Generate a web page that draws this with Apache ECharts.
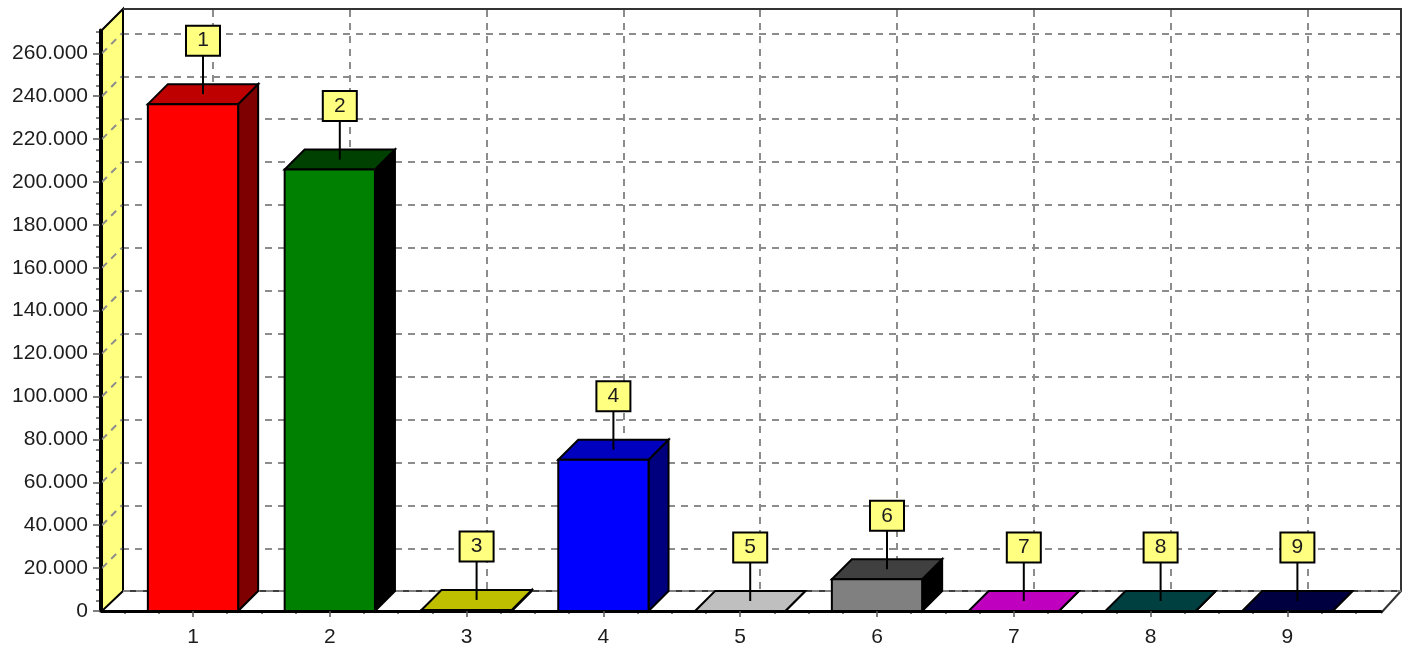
<!DOCTYPE html>
<html>
<head>
<meta charset="utf-8">
<style>html,body{margin:0;padding:0;background:#fff}#c{width:1408px;height:648px}</style>
<script src="https://cdn.jsdelivr.net/npm/echarts@6/dist/echarts.min.js"></script>
</head>
<body>
<div id="c"></div>
<script>
const categories = [1, 2, 3, 4, 5, 6, 7, 8, 9];
const values = [236300, 205800, 500, 70500, 0, 14800, 0, 0, 0];
const frontColors = ['#FF0000', '#008000', '#FFFF00', '#0000FF', '#FFFFFF', '#808080', '#FF00FF', '#008080', '#000080'];
const topColors = ['#BF0000', '#004000', '#BFBF00', '#0000BF', '#BFBFBF', '#404040', '#BF00BF', '#004040', '#000040'];
const sideColors = ['#7F0000', '#000000', '#7F7F00', '#00007F', '#7F7F7F', '#000000', '#7F007F', '#000000', '#000000'];
const yMajorTicks = [0, 20000, 40000, 60000, 80000, 100000, 120000, 140000, 160000, 180000, 200000, 220000, 240000, 260000];
const yMinorTicks = [];
for (let i = 0; i <= 54; i++) if (i % 4) yMinorTicks.push(i * 5000);
const xMinorTicks = [];
for (let i = 2; i <= 38; i++) if (i % 4) xMinorTicks.push(i * 0.25);

const X_MIN = 0.3348, X_MAX = 9.6842, Y_MAX = 270860;
const BAR_HALF = 0.33, DX = 20, DY = 20, BOX_W = 34, BOX_H = 30, BOX_ABOVE = 78.5;
const FONT = '"Liberation Sans", Arial, sans-serif';
const TEXT = '#1c1c1c';
const GRID_LINE = { show: true, lineStyle: { color: '#8c8c8c', width: 2, type: [7, 6] } };

const fmtY = v => v === 0 ? '0' : (v / 1000) + '.000';

function renderWall(params, api) {
  const a = api.coord([X_MIN, 0]), b = api.coord([X_MIN, Y_MAX]), r = api.coord([X_MAX, 0]);
  const topY = b[1] - DY - 1, backX = a[0] + DX + 1, backY = a[1] - DY;
  const kids = [
    { type: 'polygon', shape: { points: [a, b, [backX, topY], [backX, backY]] },
      style: { fill: '#FFFF80', stroke: '#000', lineWidth: 2 } },
    { type: 'polyline', shape: { points: [[backX, topY], [r[0] + DX, topY], [r[0] + DX, backY], [r[0], r[1] + 2]] },
      style: { stroke: '#333', lineWidth: 2, fill: null } },
    { type: 'line', shape: { x1: backX, y1: backY, x2: r[0] + DX, y2: backY }, style: { stroke: '#000', lineWidth: 1.5 } },
    { type: 'line', shape: { x1: backX, y1: backY, x2: r[0] + DX, y2: backY }, style: { stroke: '#999', lineWidth: 1.5, lineDash: [7, 6] } }
  ];
  yMajorTicks.slice(1).forEach(v => {
    const p = api.coord([X_MIN, v]);
    kids.push({ type: 'line', shape: { x1: p[0], y1: p[1], x2: p[0] + DX, y2: p[1] - DY },
      style: { stroke: '#8c8c8c', lineWidth: 2, lineDash: [7, 6] } });
  });
  return { type: 'group', children: kids };
}

function renderBar(params, api) {
  const i = params.dataIndex;
  const x = api.value(0), v = api.value(1);
  const tl = api.coord([x - BAR_HALF, v]), br = api.coord([x + BAR_HALF, 0]);
  const c = api.coord([x, v]);
  const s = col => ({ fill: col, stroke: '#000', lineWidth: 2, lineJoin: 'miter' });
  const sx = c[0] + DX / 2, boxTop = tl[1] - BOX_ABOVE;
  return { type: 'group', children: [
    { type: 'polygon', shape: { points: [[br[0], tl[1]], [br[0] + DX, tl[1] - DY], [br[0] + DX, br[1] - DY], [br[0], br[1]]] }, style: s(sideColors[i]) },
    { type: 'polygon', shape: { points: [[tl[0], tl[1]], [tl[0] + DX, tl[1] - DY], [br[0] + DX, tl[1] - DY], [br[0], tl[1]]] }, style: s(topColors[i]) },
    { type: 'rect', shape: { x: tl[0], y: tl[1], width: br[0] - tl[0], height: br[1] - tl[1] }, style: s(frontColors[i]) },
    { type: 'line', shape: { x1: sx, y1: boxTop + BOX_H, x2: sx, y2: tl[1] - DY / 2 }, style: { stroke: '#000', lineWidth: 2 } },
    { type: 'rect', shape: { x: sx - BOX_W / 2, y: boxTop, width: BOX_W, height: BOX_H }, style: { fill: '#FFFF80', stroke: '#000', lineWidth: 2 } },
    { type: 'text', style: { x: sx, y: boxTop + BOX_H / 2, text: String(categories[i]), fill: TEXT, font: '21px ' + FONT, align: 'center', verticalAlign: 'middle' } }
  ] };
}

const chart = echarts.init(document.getElementById('c'), null, { renderer: 'canvas' });
chart.setOption({
  animation: false,
  backgroundColor: '#fff',
  grid: [
    { left: 102, top: 30, width: 1279, height: 581.7 },
    { left: 122, top: 10, width: 1279, height: 581.7 }
  ],
  xAxis: [
    { type: 'value', gridIndex: 0, min: X_MIN, max: X_MAX, position: 'bottom', offset: 2, z: 6,
      splitLine: { show: false },
      axisLine: { show: true, lineStyle: { color: '#000', width: 3 } },
      axisTick: { show: true, length: 6, lineStyle: { color: '#555', width: 1.5 }, customValues: categories },
      axisLabel: { show: true, customValues: categories, color: TEXT, fontFamily: FONT, fontSize: 21, margin: 14, formatter: v => String(v) } },
    { type: 'value', gridIndex: 0, min: X_MIN, max: X_MAX, position: 'bottom', offset: 2, z: 5,
      splitLine: { show: false }, axisLine: { show: false },
      axisTick: { show: true, length: 3, lineStyle: { color: '#555', width: 1.5 }, customValues: xMinorTicks },
      axisLabel: { show: false } },
    { type: 'value', gridIndex: 1, min: X_MIN, max: X_MAX,
      axisLine: { show: false }, axisLabel: { show: false },
      axisTick: { show: false, customValues: categories },
      splitLine: GRID_LINE }
  ],
  yAxis: [
    { type: 'value', gridIndex: 0, min: 0, max: Y_MAX, position: 'left', offset: 2, z: 6,
      splitLine: { show: false },
      axisLine: { show: true, lineStyle: { color: '#000', width: 3 } },
      axisTick: { show: true, length: 7, lineStyle: { color: '#555', width: 1.5 }, customValues: yMajorTicks },
      axisLabel: { show: true, customValues: yMajorTicks, color: TEXT, fontFamily: FONT, fontSize: 21, margin: 12, formatter: fmtY } },
    { type: 'value', gridIndex: 0, min: 0, max: Y_MAX, position: 'left', offset: 2, z: 5,
      splitLine: { show: false }, axisLine: { show: false },
      axisTick: { show: true, length: 4, lineStyle: { color: '#555', width: 1.5 }, customValues: yMinorTicks },
      axisLabel: { show: false } },
    { type: 'value', gridIndex: 1, min: 0, max: Y_MAX,
      axisLine: { show: false }, axisLabel: { show: false },
      axisTick: { show: false, customValues: yMajorTicks.slice(1) },
      splitLine: GRID_LINE }
  ],
  series: [
    { type: 'custom', xAxisIndex: 0, yAxisIndex: 0, z: 2, clip: false, silent: true, data: [[1, 0]], renderItem: renderWall },
    { type: 'custom', xAxisIndex: 0, yAxisIndex: 0, z: 3, clip: false, silent: true,
      data: categories.map((c, i) => [c, values[i]]), encode: { x: 0, y: 1 }, renderItem: renderBar }
  ]
});
</script>
</body>
</html>
